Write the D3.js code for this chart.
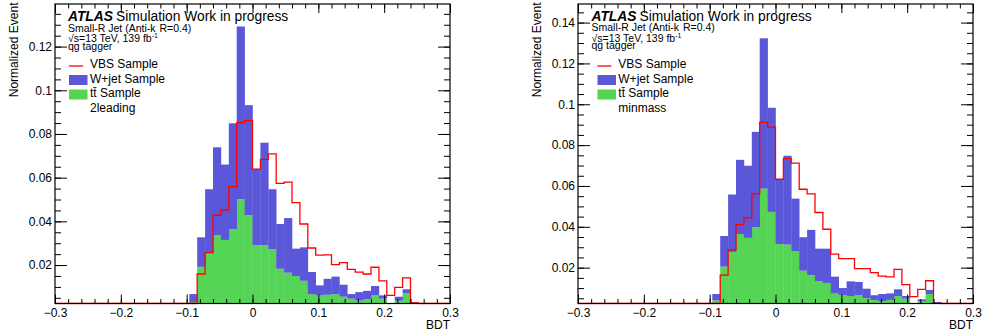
<!DOCTYPE html>
<html><head><meta charset="utf-8">
<script src="https://cdn.jsdelivr.net/npm/d3@7"></script>
<style>
body{margin:0;background:#fff}
svg{display:block}
text{font-family:"Liberation Sans",Arial,Helvetica,sans-serif;fill:#000}
</style>
</head><body>
<svg id="c" width="983" height="334"></svg>
<script>
// ---------- data ----------
const xRange = [-0.3, 0.3];
const xTickValues = [-0.3, -0.2, -0.1, 0, 0.1, 0.2, 0.3];
const xTickLabels = ["\u22120.3", "\u22120.2", "\u22120.1", "0", "0.1", "0.2", "0.3"];
const leftYTicks = [0.02, 0.04, 0.06, 0.08, 0.1, 0.12];
const leftYLabels = ["0.02", "0.04", "0.06", "0.08", "0.1", "0.12"];
const rightYTicks = [0.02, 0.04, 0.06, 0.08, 0.1, 0.12, 0.14];
const rightYLabels = ["0.02", "0.04", "0.06", "0.08", "0.1", "0.12", "0.14"];
const leftYRange = [0.0024, 0.1395];
const rightYRange = [0.00245, 0.1491];

// histogram binning: 50 bins of 0.012 over [-0.3,0.3]; filled bins start at -0.096
const firstBinLow = -0.096;
const binWidth = 0.012;

// panel "2leading"
const leftVBS   = [0, 0.0159, 0.0257, 0.0428, 0.0452, 0.0559, 0.0852, 0.0861, 0.0639, 0.0684, 0.0709, 0.0574, 0.058, 0.0486, 0.0388, 0.0278, 0.0245, 0.0247, 0.0202, 0.0211, 0.018, 0.0168, 0.0159, 0.019, 0.0128, 0.0061, 0.0098, 0.0141, 0.0027];
const leftWjet  = [0.0037, 0.0135, 0.0293, 0.0403, 0.0345, 0.0485, 0.0791, 0.0504, 0.035, 0.047, 0.0275, 0.0205, 0.025, 0.0125, 0.0153, 0.0101, 0.0046, 0.0073, 0.008, 0.0055, 0.0021, 0.0039, 0.0039, 0.0043, 0.0015, 0, 0.0018, 0.0018, 0.0003];
const leftTtbar = [0.003, 0.0192, 0.0254, 0.0336, 0.0315, 0.0364, 0.0501, 0.0428, 0.029, 0.029, 0.0272, 0.0183, 0.0165, 0.015, 0.0128, 0.0067, 0.0061, 0.0064, 0.0067, 0.0055, 0.0046, 0.0037, 0.0043, 0.0061, 0.0046, 0, 0.0037, 0.0071, 0.0027];

// panel "minmass"
const rightVBS   = [0, 0.0163, 0.0287, 0.0411, 0.0444, 0.0561, 0.0911, 0.0888, 0.0633, 0.0734, 0.0712, 0.0584, 0.0561, 0.047, 0.0388, 0.0266, 0.0244, 0.0244, 0.0195, 0.0195, 0.0176, 0.0159, 0.0155, 0.0192, 0.0117, 0.0058, 0.0094, 0.0136, 0.0025];
const rightWjet  = [0.0031, 0.015, 0.0281, 0.0363, 0.0353, 0.0467, 0.0736, 0.051, 0.0317, 0.0435, 0.0258, 0.0164, 0.0222, 0.016, 0.0168, 0.0083, 0.0035, 0.0072, 0.0065, 0.0046, 0.0023, 0.0036, 0.0032, 0.0033, 0.0013, 0, 0.001, 0.002, 0.0005];
const rightTtbar = [0.004, 0.0205, 0.0277, 0.0365, 0.0346, 0.0398, 0.0587, 0.0473, 0.0316, 0.0313, 0.028, 0.0185, 0.0163, 0.0133, 0.0125, 0.0073, 0.0065, 0.0061, 0.0065, 0.0051, 0.0042, 0.0035, 0.0042, 0.0061, 0.0048, 0, 0.0035, 0.0071, 0.0027];

const legendLabels = ["VBS Sample", "W+jet Sample", "tt\u0304 Sample"];
const panelTags = ["2leading", "minmass"];

// ---------- drawing ----------
const svg = d3.select("#c");
const BLUE = "#5a57d9", GREEN = "#56d456", RED = "#ff0000";

function drawPanel(cfg) {
  const g = svg.append("g");
  const x = d3.scaleLinear().domain(xRange).range([cfg.left, cfg.right]);
  const y = d3.scaleLinear().domain(cfg.yRange).range([cfg.bottom, cfg.top]);
  const ymin = cfg.yRange[0];

  const rows = cfg.vbs.map((v, i) => ({
    lo: firstBinLow + i * binWidth,
    hi: firstBinLow + (i + 1) * binWidth,
    vbs: v, wjet: cfg.wjet[i], ttbar: cfg.ttbar[i]
  }));
  const stacked = d3.stack().keys(["ttbar", "wjet"])(rows);
  const colors = { ttbar: GREEN, wjet: BLUE };

  const clipId = "clip" + cfg.id;
  svg.append("clipPath").attr("id", clipId).append("rect")
    .attr("x", cfg.left).attr("y", cfg.top)
    .attr("width", cfg.right - cfg.left).attr("height", cfg.bottom - cfg.top + 1);
  const plot = g.append("g").attr("clip-path", `url(#${clipId})`);

  stacked.forEach(layer => {
    plot.append("g").selectAll("rect").data(layer).join("rect")
      .attr("x", d => x(d.data.lo))
      .attr("width", d => x(d.data.hi) - x(d.data.lo) + 0.3)
      .attr("y", d => y(Math.max(d[1], ymin)))
      .attr("height", d => Math.max(0, y(Math.max(d[0], ymin)) - y(Math.max(d[1], ymin))))
      .attr("fill", colors[layer.key]);
  });

  // VBS step line
  const pts = [{ x: xRange[0], v: 0 }]
    .concat(rows.map(r => ({ x: r.lo, v: r.vbs })))
    .concat([{ x: rows[rows.length - 1].hi, v: 0 }, { x: xRange[1], v: 0 }]);
  const line = d3.line().x(d => x(d.x)).y(d => y(Math.max(d.v, ymin))).curve(d3.curveStepAfter);
  plot.append("path").attr("d", line(pts)).attr("fill", "none")
    .attr("stroke", RED).attr("stroke-width", 1.3);

  // axes
  const minorX = d3.range(-0.3, 0.3001, 0.02);
  const yMinor = d3.range(0.005, cfg.yRange[1], 0.005).filter(v => v > ymin);
  const ax = (gen, tr) => {
    const a = g.append("g").attr("transform", tr).call(gen);
    a.select(".domain").remove();
    a.selectAll("line").attr("stroke", "#000").attr("stroke-width", 1);
    a.selectAll("text").style("font-size", "12px").attr("fill", "#000");
    return a;
  };
  ax(d3.axisBottom(x).tickValues(minorX).tickSize(-4.5).tickFormat(""), `translate(0,${cfg.bottom})`);
  ax(d3.axisBottom(x).tickValues(xTickValues).tickSize(-9).tickPadding(5)
      .tickFormat((d, i) => xTickLabels[i]), `translate(0,${cfg.bottom})`);
  ax(d3.axisTop(x).tickValues(minorX).tickSize(-4.5).tickFormat(""), `translate(0,${cfg.top})`);
  ax(d3.axisTop(x).tickValues(xTickValues).tickSize(-9).tickFormat(""), `translate(0,${cfg.top})`);
  ax(d3.axisLeft(y).tickValues(yMinor).tickSize(-6).tickFormat(""), `translate(${cfg.left},0)`);
  ax(d3.axisLeft(y).tickValues(cfg.yTicks).tickSize(-12).tickPadding(3)
      .tickFormat((d, i) => cfg.yLabels[i]), `translate(${cfg.left},0)`);
  ax(d3.axisRight(y).tickValues(yMinor).tickSize(-6).tickFormat(""), `translate(${cfg.right},0)`);
  ax(d3.axisRight(y).tickValues(cfg.yTicks).tickSize(-12).tickFormat(""), `translate(${cfg.right},0)`);

  // frame
  g.append("rect").attr("x", cfg.left).attr("y", cfg.top)
    .attr("width", cfg.right - cfg.left).attr("height", cfg.bottom - cfg.top)
    .attr("fill", "none").attr("stroke", "#000").attr("stroke-width", 1.2);

  // axis titles
  g.append("text").attr("x", cfg.right).attr("y", 329).attr("text-anchor", "end")
    .style("font-size", "12px").text("BDT");
  g.append("text").attr("transform", `translate(${cfg.yTitleX},2.5) rotate(-90)`)
    .attr("text-anchor", "end").style("font-size", "12px").text("Normalized Event");

  // ATLAS label
  const t = g.append("text").attr("x", cfg.textX).attr("y", cfg.atlasY).style("font-size", "13.8px");
  t.append("tspan").style("font-weight", "bold").style("font-style", "italic").text("ATLAS");
  t.append("tspan").attr("dx", 3).text("Simulation Work in progress");

  const s1 = g.append("text").attr("x", cfg.textX).attr("y", cfg.atlasY + 10.5).style("font-size", "10.5px");
  s1.append("tspan").text("Small-R Jet (Anti-k");
  s1.append("tspan").attr("dx", 4).text("R=0.4)");
  const s2 = g.append("text").attr("x", cfg.textX).attr("y", cfg.atlasY + 21).style("font-size", "10.5px");
  s2.append("tspan").text("\u221As=13 TeV, 139 fb");
  s2.append("tspan").attr("dy", -4).style("font-size", "7px").text("-1");
  g.append("text").attr("x", cfg.textX).attr("y", cfg.atlasY + 28.5).style("font-size", "10.5px").text("qg tagger");

  // legend
  const lx = cfg.legX, tx = cfg.legTextX;
  g.append("line").attr("x1", lx).attr("x2", lx + 14).attr("y1", 66).attr("y2", 66)
    .attr("stroke", RED).attr("stroke-width", 1.3);
  g.append("rect").attr("x", lx).attr("y", 75).attr("width", 18.5).attr("height", 10).attr("fill", BLUE);
  g.append("rect").attr("x", lx).attr("y", 89.5).attr("width", 18.5).attr("height", 10).attr("fill", GREEN);
  const legY = [68.3, 82.7, 97.1];
  legendLabels.forEach((l, i) => {
    g.append("text").attr("x", tx).attr("y", legY[i]).style("font-size", "12px").text(l);
  });
  g.append("text").attr("x", tx).attr("y", 111.5).style("font-size", "12px").text(cfg.tag);
}

drawPanel({
  id: "L", left: 55, right: 450, top: 4, bottom: 303.5,
  yRange: leftYRange, yTicks: leftYTicks, yLabels: leftYLabels,
  vbs: leftVBS, wjet: leftWjet, ttbar: leftTtbar,
  yTitleX: 17.5, textX: 68, atlasY: 21, legX: 69, legTextX: 90, tag: panelTags[0]
});
drawPanel({
  id: "R", left: 578, right: 973, top: 4, bottom: 303.5,
  yRange: rightYRange, yTicks: rightYTicks, yLabels: rightYLabels,
  vbs: rightVBS, wjet: rightWjet, ttbar: rightTtbar,
  yTitleX: 540.5, textX: 591.5, atlasY: 20.5, legX: 597.5, legTextX: 618.3, tag: panelTags[1]
});
</script>
</body></html>
